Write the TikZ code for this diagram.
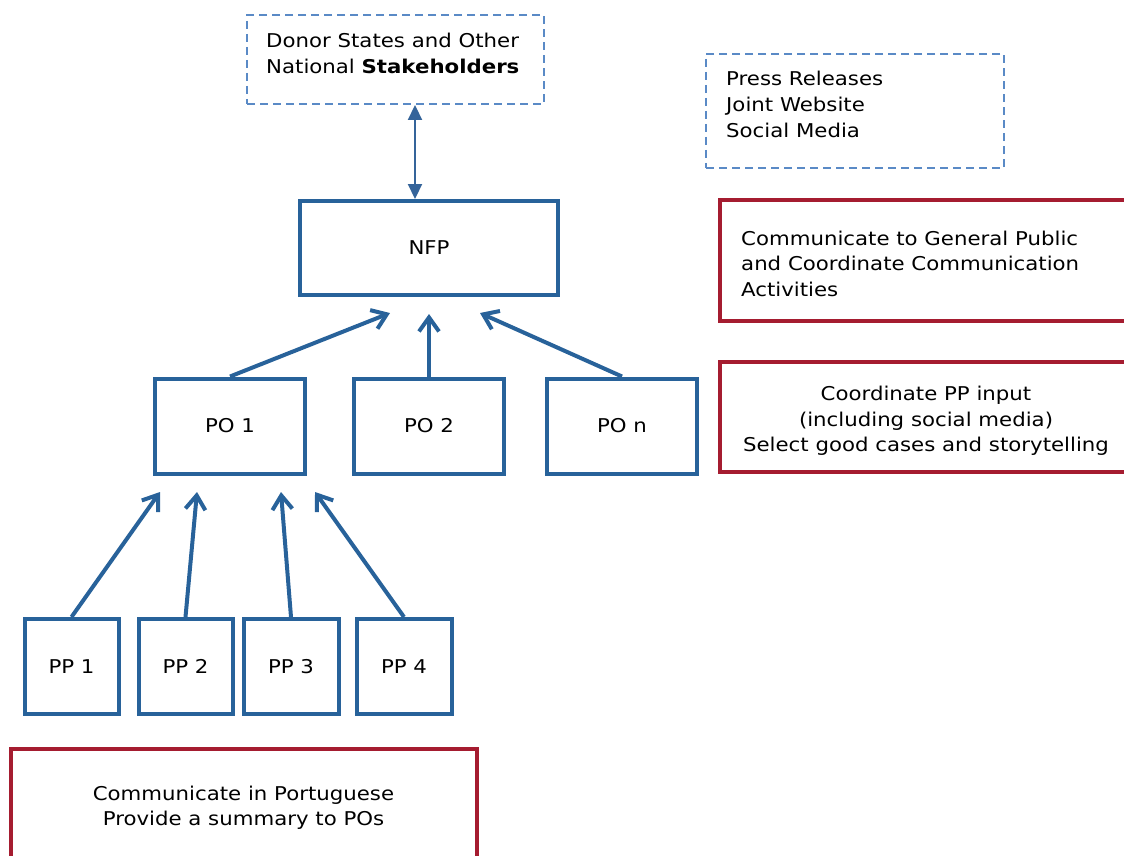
\documentclass[tikz,border=0pt]{standalone}
\usepackage{fontspec}
\setmainfont{DejaVu Sans}[FakeStretch=1.12]
\usetikzlibrary{arrows.meta,calc}
\definecolor{dblue}{HTML}{28629A}
\definecolor{lblue}{HTML}{5A8AC6}
\definecolor{ablue}{HTML}{35649A}
\definecolor{dred}{HTML}{A51C30}
\tikzset{
  solidbox/.style={draw=dblue, line width=4pt, rectangle, inner sep=0pt, font=\fontsize{19}{25.5}\selectfont},
  dashbox/.style={draw=lblue, line width=2pt, dash pattern=on 8pt off 5pt, rectangle, inner sep=0pt},
  redbox/.style={draw=dred, line width=4pt, rectangle, inner sep=0pt},
  txt/.style={inner sep=0pt, align=left, font=\fontsize{19}{26}\selectfont},
  ctxt/.style={inner sep=0pt, align=center, font=\fontsize{19}{25.5}\selectfont},
  uparrow/.style={draw=dblue, line width=4pt, -{Straight Barb[length=14pt,width=20pt,line width=4pt]}},
  dblarrow/.style={draw=ablue, line width=2.2pt, {Triangle[length=15pt,width=14pt]}-{Triangle[length=15pt,width=14pt]}}
}
\begin{document}
\begin{tikzpicture}[x=1pt,y=-1pt]
\useasboundingbox (0,0) rectangle (1124,856);
\clip (0,0) rectangle (1124,856);
% dashed boxes
\node[dashbox, minimum width=297pt, minimum height=89pt] (donor) at (395.5,59.5) {};
\node[txt, anchor=west] (donortxt) at (266,53) {Donor States and Other\\National \textbf{Stakeholders}};
\node[dashbox, minimum width=298pt, minimum height=114pt] (press) at (855,111) {};
\node[txt, anchor=west] (presstxt) at (726,104) {Press Releases\\Joint Website\\Social Media};
% NFP
\node[solidbox, minimum width=258pt, minimum height=94pt] (nfp) at (429,248) {NFP};
% red boxes
\node[redbox, minimum width=410pt, minimum height=121.5pt] (red1) at (925,260.5) {};
\node[txt, anchor=west, font=\fontsize{19}{25.5}\selectfont] (red1txt) at (741,263.5) {Communicate to General Public\\and Coordinate Communication\\Activities};
\node[redbox, minimum width=410pt, minimum height=110pt] (red2) at (925,417) {};
\node[ctxt] (red2txt) at (926,421) {Coordinate PP input\\(including social media)\\Select good cases and storytelling};
\node[redbox, minimum width=466pt, minimum height=113pt] (red3) at (243.5,805.5) {};
\node[ctxt] (red3txt) at (243.5,807.5) {Communicate in Portuguese\\Provide a summary to POs};
% PO boxes
\node[solidbox, minimum width=150pt, minimum height=95pt] (po1) at (230,426) {PO 1};
\node[solidbox, minimum width=150pt, minimum height=95pt] (po2) at (429,426) {PO 2};
\node[solidbox, minimum width=150pt, minimum height=95pt] (pon) at (622,426) {PO n};
% PP boxes
\node[solidbox, minimum width=94pt, minimum height=95pt] (pp1) at (71.5,666.5) {PP 1};
\node[solidbox, minimum width=94pt, minimum height=95pt] (pp2) at (185.5,666.5) {PP 2};
\node[solidbox, minimum width=95pt, minimum height=95pt] (pp3) at (291,666.5) {PP 3};
\node[solidbox, minimum width=95pt, minimum height=95pt] (pp4) at (404,666.5) {PP 4};
% arrow targets
\coordinate (t1) at (390,313);
\coordinate (t2) at (429,314);
\coordinate (t3) at (480,313);
\coordinate (s1) at (160,492);
\coordinate (s2) at (197,492);
\coordinate (s3) at (281,492);
\coordinate (s4) at (315,492);
\coordinate (dx) at (415,0);
% connectors
\draw[dblarrow] (dx |- donor.south) -- (dx |- nfp.north);
\draw[uparrow] (po1.north) -- (t1);
\draw[uparrow] (po2.north) -- (t2);
\draw[uparrow] (pon.north) -- (t3);
\draw[uparrow] (pp1.north) -- (s1);
\draw[uparrow] (pp2.north) -- (s2);
\draw[uparrow] (pp3.north) -- (s3);
\draw[uparrow] (pp4.north) -- (s4);
\end{tikzpicture}
\end{document}
